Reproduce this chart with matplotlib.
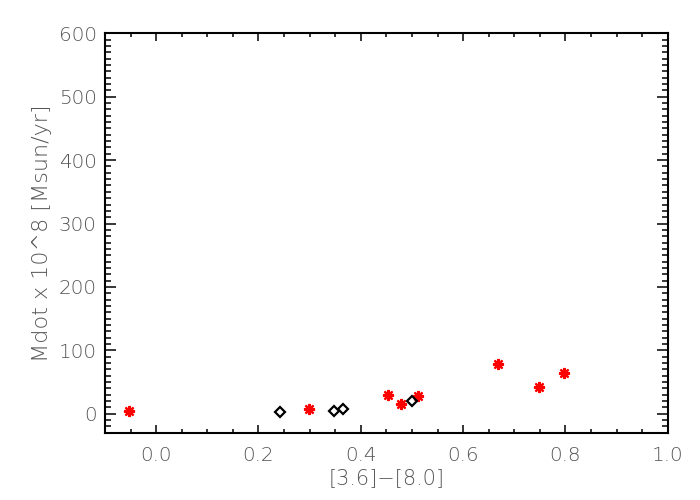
import matplotlib
matplotlib.use("Agg")
import matplotlib.pyplot as plt
from matplotlib.ticker import MultipleLocator

# red asterisks
red_x = [-0.053, 0.298, 0.453, 0.479, 0.512, 0.668, 0.748, 0.797]
red_y = [4, 7, 30, 15, 28, 79, 42, 64]
# black open diamonds
dia_x = [0.242, 0.347, 0.366, 0.501]
dia_y = [3, 5, 8, 20]

plt.rcParams['font.family'] = ['DejaVu Sans']
txt = '#555555'

fig = plt.figure(figsize=(7, 5), dpi=100)
ax = fig.add_axes([0.15, 0.1333, 0.804, 0.8])

ax.plot(red_x, red_y, linestyle='none', marker=(8, 2, 0), markersize=8,
        markeredgewidth=1.6, color='#ff0000')
ax.plot(dia_x, dia_y, linestyle='none', marker='D', markersize=5.2,
        markeredgewidth=1.6, markerfacecolor='none', markeredgecolor='black')

ax.set_xlim(-0.1, 1.0)
ax.set_ylim(-31, 600)
ax.xaxis.set_major_locator(MultipleLocator(0.2))
ax.xaxis.set_minor_locator(MultipleLocator(0.05))
ax.yaxis.set_major_locator(MultipleLocator(100))
ax.yaxis.set_minor_locator(MultipleLocator(10))
ax.xaxis.set_major_formatter(plt.FuncFormatter(lambda v, p: f'{v:.1f}'))
ax.yaxis.set_major_formatter(plt.FuncFormatter(lambda v, p: f'{v:.0f}'))

for s in ax.spines.values():
    s.set_linewidth(1.5)

ax.tick_params(axis='both', which='both', direction='in', top=True, right=True,
               width=1.1, colors='black', labelcolor=txt, labelsize=14.4)
ax.tick_params(axis='x', which='major', length=5.8, pad=9)
ax.tick_params(axis='x', which='minor', length=2.9)
ax.tick_params(axis='y', which='major', length=8.1, pad=6)
ax.tick_params(axis='y', which='minor', length=4)

for lab in ax.get_xticklabels() + ax.get_yticklabels():
    lab.set_fontweight('light')

ax.set_xlabel('[3.6]\u2212[8.0]', fontsize=15, color=txt, fontweight='light', labelpad=2)
ax.set_ylabel('Mdot x 10^8 [Msun/yr]', fontsize=16, color=txt, fontweight='light', labelpad=5)

fig.savefig('out.png', dpi=100)
